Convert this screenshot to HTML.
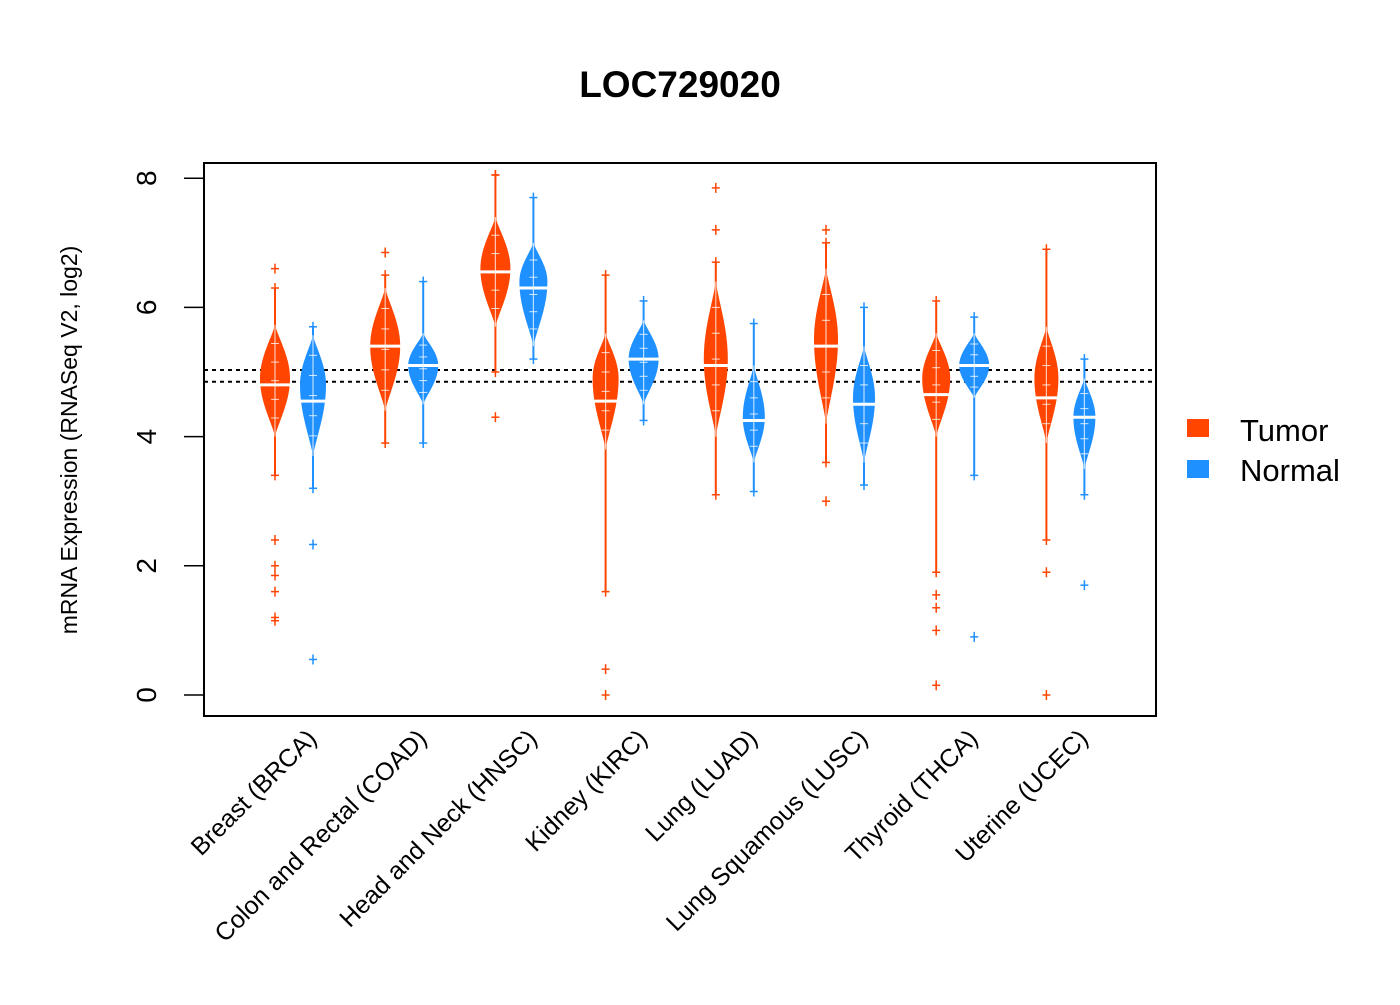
<!DOCTYPE html>
<html><head><meta charset="utf-8"><style>
body{margin:0;background:#fff;font-family:"Liberation Sans",Arial,sans-serif}
</style></head><body>
<svg id="chart" width="1400" height="1000" xmlns="http://www.w3.org/2000/svg">
<text x="680" y="97" text-anchor="middle" font-size="37" font-weight="bold">LOC729020</text>
<rect x="204" y="163" width="952" height="553" fill="none" stroke="#000" stroke-width="2"/>
<text transform="translate(77,440) rotate(-90)" text-anchor="middle" font-size="23">mRNA Expression (RNASeq V2, log2)</text>
<g id="yaxis"></g>
<g id="beans"></g>
<g id="xlabels"></g>
<g>
<rect x="1187" y="419" width="22" height="18" fill="#ff4500"/>
<text x="1240" y="441" font-size="31">Tumor</text>
<rect x="1187" y="460" width="22" height="18" fill="#1e90ff"/>
<text x="1240" y="481" font-size="31">Normal</text>
</g>
</svg>
<script>
const categories=["Breast (BRCA)","Colon and Rectal (COAD)","Head and Neck (HNSC)","Kidney (KIRC)","Lung (LUAD)","Lung Squamous (LUSC)","Thyroid (THCA)","Uterine (UCEC)"];
const yTicks=[0,2,4,6,8];
const refLines=[5.03,4.85];
// [bodyLo, peak, bodyHi, maxHalfWidth, median, tailLo, tailHi]
const tumorBeans=[[4.0,4.9,5.73,15,4.8,3.4,6.3],[4.4,5.4,6.3,15,5.4,3.9,6.5],[5.7,6.6,7.4,15,6.55,5.0,8.05],[3.8,4.9,5.6,13,4.55,1.6,6.5],[4.0,5.2,6.4,12,5.1,3.1,6.7],[4.2,5.5,6.6,12,5.4,3.6,7.0],[4.0,4.9,5.6,14,4.65,1.9,6.1],[3.9,4.9,5.7,12,4.6,2.4,6.9]];
const normalBeans=[[3.7,4.8,5.57,13,4.55,3.2,5.7],[4.5,5.1,5.6,15,5.1,3.9,6.4],[5.4,6.4,7.0,14,6.3,5.2,7.7],[4.5,5.2,5.8,15,5.2,4.25,6.1],[3.6,4.3,5.1,11,4.25,3.15,5.75],[3.6,4.6,5.4,11,4.5,3.25,6.0],[4.6,5.1,5.6,15,5.1,3.4,5.85],[3.5,4.3,4.9,11,4.3,3.1,5.2]];
const tumorOutliers=[[1.15,1.2,1.6,1.85,2.0,2.4,6.6],[6.85],[4.3,8.05],[0,0.4],[7.85,7.2],[7.2,3.0],[0.15,1.0,1.35,1.55],[0,1.9]];
const normalOutliers=[[0.55,2.33],[],[],[],[],[],[0.9],[1.7]];
const NS="http://www.w3.org/2000/svg";
const yOf=v=>695-v*64.6;
const xCenter=i=>294+i*110.2;
function mk(tag,attrs,parent){const e=document.createElementNS(NS,tag);for(const k in attrs)e.setAttribute(k,attrs[k]);parent.appendChild(e);return e;}
const yaxis=document.getElementById('yaxis');
yTicks.forEach(t=>{
  mk('line',{x1:184,x2:204,y1:yOf(t),y2:yOf(t),stroke:'#000','stroke-width':1.5},yaxis);
  const tx=mk('text',{transform:`translate(156,${yOf(t)}) rotate(-90)`,'text-anchor':'middle','font-size':28},yaxis);
  
  
  tx.textContent=t;
});
const beans=document.getElementById('beans');
refLines.forEach(v=>{
  const l=mk('line',{x1:204,x2:1156,y1:yOf(v),y2:yOf(v),stroke:'#000','stroke-width':2,'stroke-dasharray':'4,4'},beans);
  
  
});
function drawBean(cx,b,outs,color,name){
  const [lo,pk,hi,W,med,tlo,thi]=b;
  const g=mk('g',{},beans);
  
  
  mk('line',{x1:cx,x2:cx,y1:yOf(tlo),y2:yOf(thi),stroke:color,'stroke-width':2},g);
  const L=[],R=[];
  for(let k=0;k<=40;k++){
    const v=lo+(hi-lo)*k/40;
    const t=v<pk?(pk-v)/(pk-lo):(v-pk)/(hi-pk);
    const w=W*Math.pow(Math.cos(t*Math.PI/2),1.2);
    L.push([cx-w,yOf(v)]);R.unshift([cx+w,yOf(v)]);
  }
  mk('polygon',{points:L.concat(R).map(p=>p.join(',')).join(' '),fill:color},g);
  mk('line',{x1:cx,x2:cx,y1:yOf(hi),y2:yOf(lo),stroke:'#fff','stroke-width':1.2,opacity:0.7},g);
  for(let k=1;k<6;k++){const v=lo+(hi-lo)*k/6;mk('line',{x1:cx-4,x2:cx+4,y1:yOf(v),y2:yOf(v),stroke:'#fff','stroke-width':1,opacity:0.8},g);}
  mk('line',{x1:cx-W-2,x2:cx+W+2,y1:yOf(med),y2:yOf(med),stroke:'#fff','stroke-width':3},g);
  [tlo,thi].concat(outs).forEach(v=>{
    mk('line',{x1:cx-4,x2:cx+4,y1:yOf(v),y2:yOf(v),stroke:color,'stroke-width':1.5},g);
    mk('line',{x1:cx,x2:cx,y1:yOf(v)-5,y2:yOf(v)+5,stroke:color,'stroke-width':1.5},g);
  });
}
categories.forEach((c,i)=>{
  drawBean(xCenter(i)-19,tumorBeans[i],tumorOutliers[i],'#ff4500','bean-tumor-'+i);
  drawBean(xCenter(i)+19,normalBeans[i],normalOutliers[i],'#1e90ff','bean-normal-'+i);
  const xl=document.getElementById('xlabels');
  const t=mk('text',{transform:`translate(${xCenter(i)+24},740) rotate(-45)`,'text-anchor':'end','font-size':25},xl);
  
  
  t.textContent=c;
});
</script>
</body></html>
